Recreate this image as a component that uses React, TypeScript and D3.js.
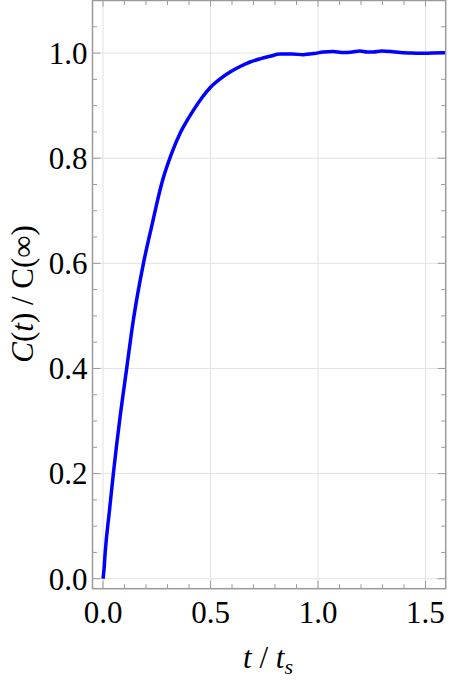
import React from 'react';
import * as d3 from 'd3';

// readings: t / t_s and C(t) / C(inf)
const tVals = [0, 0.005, 0.01, 0.03, 0.048, 0.08, 0.11, 0.141, 0.188, 0.226, 0.273, 0.319, 0.358, 0.39, 0.42, 0.46, 0.5, 0.545, 0.591, 0.64, 0.684, 0.73, 0.777, 0.823, 0.88, 0.932, 0.98, 1.025, 1.07, 1.118, 1.16, 1.195, 1.23, 1.257, 1.296, 1.34, 1.381, 1.43, 1.474, 1.53, 1.591];
const cVals = [0, 0.02, 0.05, 0.13, 0.2, 0.31, 0.4, 0.492, 0.6, 0.67, 0.752, 0.809, 0.847, 0.871, 0.891, 0.915, 0.935, 0.951, 0.964, 0.975, 0.983, 0.989, 0.994, 0.998, 0.998, 0.997, 0.999, 1.002, 1.003, 1.001, 1.002, 1.004, 1.002, 1.002, 1.004, 1.003, 1.001, 1.0, 0.9995, 1.0, 1.0005];

const xMajor = [0, 0.5, 1.0, 1.5];
const yMajor = [0, 0.2, 0.4, 0.6, 0.8, 1.0];

const W = 449;
const H = 680;
const left = 92.5, right = 445.7, top = 0.5, bottom = 588.7;

export default function App() {
  const x = d3.scaleLinear().domain([-0.049, 1.594]).range([left, right]);
  const y = d3.scaleLinear().domain([-0.019, 1.1]).range([bottom, top]);

  const xMinor = d3.range(0, 16).map(i => i / 10).filter(v => !xMajor.some(m => Math.abs(m - v) < 1e-9));
  const yMinor = d3.range(0, 23).map(i => i / 20).filter(v => !yMajor.some(m => Math.abs(m - v) < 1e-9));

  const line = d3.line<number>()
    .x((_, i) => x(tVals[i]))
    .y(d => y(d))
    .curve(d3.curveMonotoneX);

  const frame = '#9a9a9a';
  const font = 'Liberation Serif';
  const fs = 31;

  return (
    <svg width={W} height={H} style={{ position: 'absolute', left: 0, top: 0 }}>
      <rect width={W} height={H} fill="white" />
      {/* grid */}
      {xMajor.map(v => (
        <line key={'gx' + v} x1={x(v)} x2={x(v)} y1={top} y2={bottom} stroke="#e2e2e2" strokeWidth={1} />
      ))}
      {yMajor.map(v => (
        <line key={'gy' + v} x1={left} x2={right} y1={y(v)} y2={y(v)} stroke="#e2e2e2" strokeWidth={1} />
      ))}

      {/* ticks, mirrored on all sides */}
      {xMajor.map(v => (
        <g key={'tx' + v} stroke={frame} strokeWidth={1}>
          <line x1={x(v)} x2={x(v)} y1={bottom} y2={bottom - 8} />
          <line x1={x(v)} x2={x(v)} y1={top} y2={top + 6} />
        </g>
      ))}
      {xMinor.map(v => (
        <g key={'mx' + v} stroke={frame} strokeWidth={1}>
          <line x1={x(v)} x2={x(v)} y1={bottom} y2={bottom - 4.5} />
          <line x1={x(v)} x2={x(v)} y1={top} y2={top + 4.5} />
        </g>
      ))}
      {yMajor.map(v => (
        <g key={'ty' + v} stroke={frame} strokeWidth={1}>
          <line x1={left} x2={left + 8} y1={y(v)} y2={y(v)} />
          <line x1={right} x2={right - 8} y1={y(v)} y2={y(v)} />
        </g>
      ))}
      {yMinor.map(v => (
        <g key={'my' + v} stroke={frame} strokeWidth={1}>
          <line x1={left} x2={left + 4.5} y1={y(v)} y2={y(v)} />
          <line x1={right} x2={right - 4.5} y1={y(v)} y2={y(v)} />
        </g>
      ))}

      <path d={line(cVals) || ''} fill="none" stroke="#0000ff" strokeWidth={3.5} strokeLinejoin="round" />

      <rect x={left} y={top} width={right - left} height={bottom - top} fill="none" stroke={frame} strokeWidth={1.5} />

      {/* tick labels */}
      {xMajor.map(v => (
        <text key={'lx' + v} x={x(v)} y={623} textAnchor="middle" fontFamily={font} fontSize={fs} fill="black">
          {d3.format('.1f')(v)}
        </text>
      ))}
      {yMajor.map(v => (
        <text key={'ly' + v} x={left - 5} y={y(v)} dy="0.35em" textAnchor="end" fontFamily={font} fontSize={fs} fill="black">
          {d3.format('.1f')(v)}
        </text>
      ))}

      {/* axis titles */}
      <text x={268} y={668} textAnchor="middle" fontFamily={font} fontSize={fs} fill="black">
        <tspan fontStyle="italic">t</tspan>
        <tspan> / </tspan>
        <tspan fontStyle="italic">t</tspan>
        <tspan fontStyle="italic" fontSize={22} dy={6}>s</tspan>
      </text>
      <text transform="translate(33,294) rotate(-90)" textAnchor="middle" fontFamily={font} fontSize={fs} fill="black">
        <tspan fontStyle="italic">C</tspan>
        <tspan>(</tspan>
        <tspan fontStyle="italic">t</tspan>
        <tspan>) / C(∞)</tspan>
      </text>
    </svg>
  );
}
